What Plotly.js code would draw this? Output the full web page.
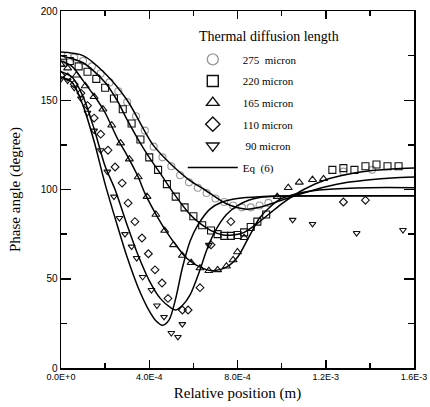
<!DOCTYPE html>
<html>
<head>
<meta charset="utf-8">
<script src="https://cdn.plot.ly/plotly-3.0.1.min.js"></script>
<style>html,body{margin:0;padding:0;background:#fff;}#chart{width:430px;height:407px;}</style>
</head>
<body>
<div id="chart"></div>
<script>
// ---- Data (x in metres, y in degrees) ----
const seriesNames = ["275  micron", "220 micron", "165 micron", "110 micron", " 90 micron"];
const lineName = "Eq  (6)";
const legendTitle = "Thermal diffusion length";

// Measured points
const m275X = [0, 0.3e-4, 0.6e-4, 1.0e-4, 1.4e-4, 1.8e-4, 2.2e-4, 2.6e-4, 3.0e-4, 3.4e-4, 3.8e-4, 4.2e-4, 4.6e-4, 5.0e-4, 5.4e-4, 5.8e-4, 6.2e-4, 6.6e-4, 7.0e-4, 7.4e-4, 7.8e-4, 8.2e-4, 8.6e-4, 9.0e-4, 9.4e-4, 12.8e-4, 14.1e-4];
const m275Y = [171, 175, 174, 172, 169, 165, 160, 155, 149, 141, 133, 124, 118, 113, 108, 104, 101, 98, 95, 93, 91, 90, 90, 91, 92.5, 110, 111];

const m220X = [0.1e-4, 0.4e-4, 0.8e-4, 1.2e-4, 1.6e-4, 2.0e-4, 2.4e-4, 2.8e-4, 3.2e-4, 3.6e-4, 4.0e-4, 4.4e-4, 4.8e-4, 5.2e-4, 5.6e-4, 6.0e-4, 6.4e-4, 6.8e-4, 7.1e-4, 7.4e-4, 7.7e-4, 8.0e-4, 8.3e-4, 8.6e-4, 8.9e-4, 9.3e-4, 12.3e-4, 12.8e-4, 13.3e-4, 13.8e-4, 14.3e-4, 14.8e-4, 15.3e-4];
const m220Y = [171, 172, 169, 166, 162, 157, 151, 145, 137, 128, 118, 111, 103, 96, 90, 85, 80, 77, 75, 74, 74, 74.5, 76, 79, 82, 86, 111, 112, 111, 113, 114, 113, 113];

const m165X = [0, 0.3e-4, 0.7e-4, 1.1e-4, 1.5e-4, 1.9e-4, 2.3e-4, 2.7e-4, 3.1e-4, 3.5e-4, 3.9e-4, 4.3e-4, 4.7e-4, 5.1e-4, 5.5e-4, 5.9e-4, 6.3e-4, 6.7e-4, 7.1e-4, 7.5e-4, 7.8e-4, 8.0e-4, 8.3e-4, 9.8e-4, 10.3e-4, 10.8e-4, 11.4e-4, 11.9e-4];
const m165Y = [170, 168, 164, 158, 152, 145, 136, 126, 117, 107, 96, 86, 77, 69, 63, 59, 56, 54.5, 55, 57, 60.5, 65, 73, 96, 101, 104, 105.5, 106];

const m110X = [0, 0.3e-4, 0.6e-4, 0.9e-4, 1.2e-4, 1.5e-4, 1.8e-4, 2.13e-4, 2.45e-4, 2.77e-4, 3.04e-4, 3.35e-4, 3.67e-4, 3.96e-4, 4.26e-4, 4.58e-4, 4.85e-4, 5.5e-4, 5.76e-4, 6.3e-4, 6.8e-4, 7.7e-4, 12.8e-4, 13.8e-4];
const m110Y = [164, 163, 159, 154, 147, 140, 131, 122, 112.6, 103.6, 92.4, 82, 72.8, 64, 55, 47.6, 39, 32.5, 32.5, 45, 69, 82, 93, 94];

const m90X = [0, 0.3e-4, 0.6e-4, 0.9e-4, 1.2e-4, 1.5e-4, 1.8e-4, 2.1e-4, 2.4e-4, 2.65e-4, 2.9e-4, 3.2e-4, 3.43e-4, 3.7e-4, 4.1e-4, 4.35e-4, 4.67e-4, 5.0e-4, 5.3e-4, 5.5e-4, 6.7e-4, 10.5e-4, 11.4e-4, 13.4e-4, 15.5e-4];
const m90Y = [162, 161, 157, 151, 143, 133, 122, 110, 96, 84, 75, 68, 61.6, 51, 43.7, 35, 28.6, 19.6, 17.4, 24.6, 69, 83, 80.7, 75.6, 77.3];

// Eq (6) curves
const e275X = [0, 1e-4, 2e-4, 3e-4, 4.17e-4, 5e-4, 5.85e-4, 6.5e-4, 7.5e-4, 8.4e-4, 9e-4, 10e-4, 11e-4, 12e-4, 13e-4, 14e-4, 15e-4, 16e-4];
const e275Y = [177, 175, 165, 150, 125, 114, 105, 100, 92, 89, 90, 94, 98, 101.5, 104, 105.5, 106.5, 107];

const e220X = [0, 1e-4, 2e-4, 2.54e-4, 3e-4, 3.5e-4, 4e-4, 4.5e-4, 5.1e-4, 5.85e-4, 6.3e-4, 6.8e-4, 7.35e-4, 7.8e-4, 8.3e-4, 8.9e-4, 9.5e-4, 10e-4, 11e-4, 12e-4, 13e-4, 14e-4, 15e-4, 16e-4];
const e220Y = [175, 171, 160, 150, 139, 128, 118, 109, 98, 86, 81, 77, 74.5, 74.5, 76, 81, 87, 92, 100, 105.5, 108.5, 110.5, 111.5, 112];

const e165X = [0, 0.5e-4, 1e-4, 1.65e-4, 2e-4, 2.58e-4, 3e-4, 3.5e-4, 3.8e-4, 4.4e-4, 4.8e-4, 5.2e-4, 5.7e-4, 6.3e-4, 6.9e-4, 7.5e-4, 8e-4, 8.5e-4, 9e-4, 9.5e-4, 10e-4, 11e-4, 12e-4, 14e-4, 16e-4];
const e165Y = [172, 169, 161, 150, 143, 128, 119, 107, 98, 84, 76, 69, 61.5, 56.5, 54.5, 56.5, 62, 73, 84, 90.5, 95, 98.5, 100, 101, 101];

const e110X = [0, 0.5e-4, 1e-4, 1.5e-4, 2e-4, 2.45e-4, 3e-4, 3.5e-4, 4e-4, 4.5e-4, 5e-4, 5.2e-4, 5.5e-4, 5.85e-4, 6.3e-4, 6.6e-4, 7e-4, 7.5e-4, 8e-4, 8.5e-4, 9e-4, 10e-4, 12e-4, 16e-4];
const e110Y = [166, 163, 152, 134, 113, 100, 80, 63, 49, 39, 33.5, 32.5, 35, 41, 55, 66, 77, 86, 91, 94, 95.5, 96.3, 96.5, 96.5];

const e90X = [0, 0.5e-4, 1e-4, 1.5e-4, 2e-4, 2.5e-4, 3e-4, 3.5e-4, 4e-4, 4.3e-4, 4.6e-4, 4.9e-4, 5.2e-4, 5.5e-4, 5.85e-4, 6.2e-4, 6.75e-4, 7.3e-4, 8e-4, 9e-4, 10e-4, 16e-4];
const e90Y = [163, 160, 147, 127, 103, 82, 62, 45, 32, 26.5, 24, 27, 39, 56, 71, 80, 89, 93, 95, 96, 96.3, 96.5];

// Axis ticks
const xTickVals = [0, 4e-4, 8e-4, 1.2e-3, 1.6e-3];
const xTickText = ["0.0E+0", "4.0E-4", "8.0E-4", "1.2E-3", "1.6E-3"];
const yTickVals = [0, 50, 100, 150, 200];
const yTickText = ["0", "50", "100", "150", "200"];

// ---- Traces ----
const markerX = [m275X, m220X, m165X, m110X, m90X];
const markerY = [m275Y, m220Y, m165Y, m110Y, m90Y];
const symbols = ["circle-open", "square-open", "triangle-up-open", "diamond-open", "triangle-down-open"];
const mColors = ["#999", "#111", "#111", "#111", "#111"];
const mSizes = [7, 7, 7, 6, 6];

const traces = [];
// plotted measured points (legend entries provided by legend-only twins below)
for (let i = 0; i < 5; i++) {
  traces.push({
    x: markerX[i], y: markerY[i], mode: "markers", type: "scatter", name: seriesNames[i],
    legendgroup: "g" + i, showlegend: false,
    marker: {symbol: symbols[i], size: mSizes[i], color: mColors[i], line: {width: 1.1, color: mColors[i]}}
  });
}
// legend entries with larger symbols, as in the original key
for (let i = 0; i < 5; i++) {
  traces.push({
    x: [null], y: [null], mode: "markers", type: "scatter", name: seriesNames[i],
    legendgroup: "g" + i, showlegend: true, hoverinfo: "skip",
    marker: {symbol: symbols[i], size: 11, color: mColors[i], line: {width: 1.4, color: mColors[i]}}
  });
}
const lineX = [e275X, e220X, e165X, e110X, e90X];
const lineY = [e275Y, e220Y, e165Y, e110Y, e90Y];
for (let i = 0; i < 5; i++) {
  traces.push({
    x: lineX[i], y: lineY[i], mode: "lines", type: "scatter", name: lineName,
    legendgroup: "eq", showlegend: i === 0,
    line: {color: "#000", width: 1.5, shape: "spline", smoothing: 0.8}
  });
}

const axisCommon = {
  showgrid: false, zeroline: false, showline: true, linecolor: "#000", linewidth: 1.5,
  mirror: "allticks", ticks: "inside", tickcolor: "#000", tickwidth: 1.5,
  tickfont: {family: "Liberation Sans, Arial, sans-serif", size: 10, color: "#000"}
};

const layout = {
  width: 430, height: 407,
  margin: {l: 61, r: 16, t: 11, b: 39},
  paper_bgcolor: "#fff", plot_bgcolor: "#fff",
  showlegend: true,
  xaxis: Object.assign({}, axisCommon, {
    range: [0, 1.6e-3], tickmode: "array", tickvals: xTickVals, ticktext: xTickText, ticklen: 8,
    minor: {tickmode: "linear", tick0: 0, dtick: 2e-4, ticks: "inside", ticklen: 5, tickcolor: "#000", tickwidth: 1.5},
    tickfont: {family: "Liberation Sans, Arial, sans-serif", size: 9, color: "#000"},
    title: {text: "Relative position (m)", standoff: 6, font: {family: "Liberation Serif, Times New Roman, serif", size: 15, color: "#000"}}
  }),
  yaxis: Object.assign({}, axisCommon, {
    range: [0, 200], tickmode: "array", tickvals: yTickVals, ticktext: yTickText, ticklen: 10,
    minor: {tickmode: "linear", tick0: 0, dtick: 25, ticks: "inside", ticklen: 6, tickcolor: "#000", tickwidth: 1.5},
    title: {text: "Phase angle (degree)", standoff: 16, font: {family: "Liberation Serif, Times New Roman, serif", size: 15, color: "#000"}}
  }),
  legend: {
    x: 0.345, y: 0.905, xanchor: "left", yanchor: "top",
    bgcolor: "rgba(0,0,0,0)", borderwidth: 0,
    font: {family: "Liberation Serif, Times New Roman, serif", size: 11, color: "#000"},
    itemwidth: 50, tracegroupgap: 2.6
  },
  annotations: [{
    text: legendTitle, xref: "paper", yref: "paper", x: (197 - 61) / 353, y: (368 - 37) / 357,
    xanchor: "left", yanchor: "middle", showarrow: false,
    font: {family: "Liberation Serif, Times New Roman, serif", size: 14, color: "#000"}
  }]
};

Plotly.newPlot("chart", traces, layout, {displayModeBar: false, staticPlot: true});
</script>
</body>
</html>
